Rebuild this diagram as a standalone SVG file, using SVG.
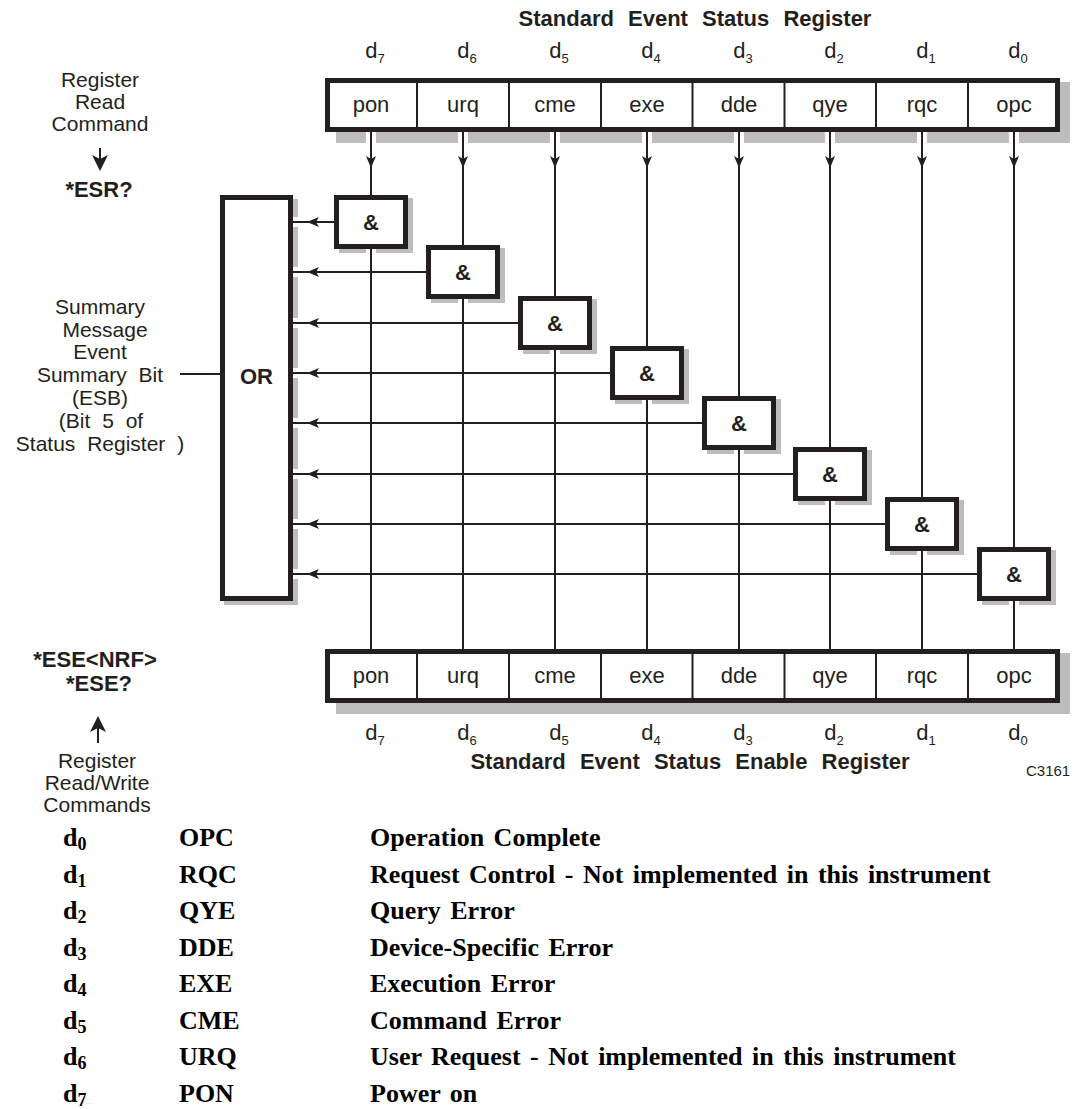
<svg xmlns="http://www.w3.org/2000/svg" xmlns:xlink="http://www.w3.org/1999/xlink" width="1076" height="1109" viewBox="0 0 1076 1109">
<style>
.sans{font-family:"Liberation Sans",Arial,sans-serif;fill:#231f20}
.lbl{font-size:22px;text-anchor:middle}
.lbl2{font-size:21px;text-anchor:middle}
.bold{font-weight:bold}
.cell{font-size:22px;text-anchor:middle}
.title{font-size:22px;font-weight:bold;text-anchor:middle;word-spacing:8px}
.dl{font-size:22px;text-anchor:middle}
.sub{font-size:13px}
.box{fill:#fff;stroke:#231f20;stroke-width:5}
.div{stroke:#231f20;stroke-width:2}
.ln{stroke:#231f20;stroke-width:2;fill:none}
.sh{fill:#bdbdbd}
.gap{fill:#fff}
.amp{font-size:22px;font-weight:bold;text-anchor:middle}
.leg{font-family:"Liberation Serif","Times New Roman",serif;font-weight:bold;font-size:26px;fill:#000}
.legsub{font-size:18px}
.ah{fill:#231f20}
</style>
<defs>
<path id="adown" d="M0,0 L-5,-12 L0,-9 L5,-12 Z"/>
<path id="aleft" d="M0,0 L12,-5 L9,0 L12,5 Z"/>
</defs>

<!-- Left descriptive texts -->
<g id="read-command" class="sans">
<text class="lbl2" x="100" y="87">Register</text>
<text class="lbl2" x="100" y="109">Read</text>
<text class="lbl2" x="100" y="131">Command</text>
<line class="ln" x1="100" y1="148" x2="100" y2="160"/>
<path class="ah" d="M100,171 L92,155 L100,159 L108,155 Z"/>
<text class="lbl bold" x="99" y="197">*ESR?</text>
</g>

<g id="summary-label" class="sans">
<text class="lbl2" x="100" y="314">Summary</text>
<text class="lbl2" x="105" y="337">Message</text>
<text class="lbl2" x="100" y="359">Event</text>
<text class="lbl2" x="100" y="382" style="word-spacing:6px">Summary Bit</text>
<text class="lbl2" x="100" y="405">(ESB)</text>
<text class="lbl2" x="101" y="428" style="word-spacing:6px">(Bit 5 of</text>
<text class="lbl2" x="100" y="451" style="word-spacing:6px">Status Register )</text>
</g>

<g id="write-command" class="sans">
<text class="lbl bold" x="95" y="667">*ESE&lt;NRF&gt;</text>
<text class="lbl bold" x="99" y="691">*ESE?</text>
<path class="ah" d="M98,716 L90,732 L98,728 L106,732 Z"/>
<line class="ln" x1="98" y1="728" x2="98" y2="743"/>
<text class="lbl2" x="97" y="768">Register</text>
<text class="lbl2" x="97" y="790">Read/Write</text>
<text class="lbl2" x="97" y="812">Commands</text>
</g>

<!-- Shadows -->
<g id="shadows">
<rect class="sh" x="336" y="82" width="734" height="61"/>
<rect class="sh" x="336" y="653" width="734" height="61"/>
<rect class="sh" x="224" y="199" width="74" height="406"/>
<rect class="sh" x="339" y="198" width="74" height="55"/>
<rect class="sh" x="431" y="248" width="74" height="55"/>
<rect class="sh" x="523" y="299" width="74" height="55"/>
<rect class="sh" x="615" y="349" width="74" height="55"/>
<rect class="sh" x="707" y="399" width="74" height="55"/>
<rect class="sh" x="798" y="450" width="74" height="55"/>
<rect class="sh" x="890" y="500" width="74" height="55"/>
<rect class="sh" x="982" y="550" width="74" height="55"/>
<g class="gap">
<rect x="366" y="132" width="10" height="12"/><rect x="458" y="132" width="10" height="12"/>
<rect x="550" y="132" width="10" height="12"/><rect x="642" y="132" width="10" height="12"/>
<rect x="734" y="132" width="10" height="12"/><rect x="825" y="132" width="10" height="12"/>
<rect x="917" y="132" width="10" height="12"/><rect x="1009" y="132" width="10" height="12"/>
<rect x="366" y="249" width="10" height="6"/><rect x="458" y="299" width="10" height="6"/>
<rect x="550" y="350" width="10" height="6"/><rect x="642" y="400" width="10" height="6"/>
<rect x="734" y="450" width="10" height="6"/><rect x="825" y="501" width="10" height="6"/>
<rect x="917" y="551" width="10" height="6"/><rect x="1009" y="601" width="10" height="6"/>
<rect x="293" y="217" width="7" height="10"/><rect x="293" y="267" width="7" height="10"/>
<rect x="293" y="318" width="7" height="10"/><rect x="293" y="368" width="7" height="10"/>
<rect x="293" y="418" width="7" height="10"/><rect x="293" y="469" width="7" height="10"/>
<rect x="293" y="519" width="7" height="10"/><rect x="293" y="569" width="7" height="10"/>
</g>
</g>

<!-- Connectors -->
<g id="connectors">
<g class="ln">
<line x1="371" y1="132" x2="371" y2="649"/>
<line x1="463" y1="132" x2="463" y2="649"/>
<line x1="555" y1="132" x2="555" y2="649"/>
<line x1="647" y1="132" x2="647" y2="649"/>
<line x1="739" y1="132" x2="739" y2="649"/>
<line x1="830" y1="132" x2="830" y2="649"/>
<line x1="922" y1="132" x2="922" y2="649"/>
<line x1="1014" y1="132" x2="1014" y2="649"/>
<line x1="293" y1="222" x2="335" y2="222"/>
<line x1="293" y1="272" x2="427" y2="272"/>
<line x1="293" y1="323" x2="519" y2="323"/>
<line x1="293" y1="373" x2="611" y2="373"/>
<line x1="293" y1="423" x2="703" y2="423"/>
<line x1="293" y1="474" x2="794" y2="474"/>
<line x1="293" y1="524" x2="886" y2="524"/>
<line x1="293" y1="574" x2="978" y2="574"/>
<line x1="180" y1="374" x2="220" y2="374"/>
</g>
<g class="ah">
<use xlink:href="#adown" x="371" y="168"/><use xlink:href="#adown" x="463" y="168"/>
<use xlink:href="#adown" x="555" y="168"/><use xlink:href="#adown" x="647" y="168"/>
<use xlink:href="#adown" x="739" y="168"/><use xlink:href="#adown" x="830" y="168"/>
<use xlink:href="#adown" x="922" y="168"/><use xlink:href="#adown" x="1014" y="168"/>
<use xlink:href="#aleft" x="307" y="222"/><use xlink:href="#aleft" x="307" y="272"/>
<use xlink:href="#aleft" x="307" y="323"/><use xlink:href="#aleft" x="307" y="373"/>
<use xlink:href="#aleft" x="307" y="423"/><use xlink:href="#aleft" x="307" y="474"/>
<use xlink:href="#aleft" x="307" y="524"/><use xlink:href="#aleft" x="307" y="574"/>
</g>
</g>

<!-- Standard Event Status Register -->
<g id="status-register" class="sans">
<text class="title" x="695" y="26">Standard Event Status Register</text>
<text class="dl" x="375" y="58">d<tspan class="sub" dy="5">7</tspan></text>
<text class="dl" x="467" y="58">d<tspan class="sub" dy="5">6</tspan></text>
<text class="dl" x="559" y="58">d<tspan class="sub" dy="5">5</tspan></text>
<text class="dl" x="651" y="58">d<tspan class="sub" dy="5">4</tspan></text>
<text class="dl" x="743" y="58">d<tspan class="sub" dy="5">3</tspan></text>
<text class="dl" x="834" y="58">d<tspan class="sub" dy="5">2</tspan></text>
<text class="dl" x="926" y="58">d<tspan class="sub" dy="5">1</tspan></text>
<text class="dl" x="1018" y="58">d<tspan class="sub" dy="5">0</tspan></text>
<rect class="box" x="327.5" y="80.5" width="730" height="49"/>
<g class="div">
<line x1="417" y1="81" x2="417" y2="129"/><line x1="509" y1="81" x2="509" y2="129"/>
<line x1="601" y1="81" x2="601" y2="129"/><line x1="692.5" y1="81" x2="692.5" y2="129"/>
<line x1="784.5" y1="81" x2="784.5" y2="129"/><line x1="876" y1="81" x2="876" y2="129"/>
<line x1="968" y1="81" x2="968" y2="129"/>
</g>
<text class="cell" x="371" y="112">pon</text>
<text class="cell" x="463" y="112">urq</text>
<text class="cell" x="555" y="112">cme</text>
<text class="cell" x="647" y="112">exe</text>
<text class="cell" x="739" y="112">dde</text>
<text class="cell" x="830" y="112">qye</text>
<text class="cell" x="922" y="112">rqc</text>
<text class="cell" x="1014" y="112">opc</text>
</g>

<!-- OR gate -->
<g id="or-gate" class="sans">
<rect class="box" x="222.5" y="197.5" width="68" height="401"/>
<text class="amp" x="256.5" y="384">OR</text>
</g>

<!-- AND gates -->
<g id="and-gates" class="sans">
<g id="and-d7"><rect class="box" x="336.5" y="197.5" width="69" height="49"/><text class="amp" x="371" y="230">&amp;</text></g>
<g id="and-d6"><rect class="box" x="428.5" y="247.5" width="69" height="49"/><text class="amp" x="463" y="280">&amp;</text></g>
<g id="and-d5"><rect class="box" x="520.5" y="298.5" width="69" height="49"/><text class="amp" x="555" y="331">&amp;</text></g>
<g id="and-d4"><rect class="box" x="612.5" y="348.5" width="69" height="49"/><text class="amp" x="647" y="381">&amp;</text></g>
<g id="and-d3"><rect class="box" x="704.5" y="398.5" width="69" height="49"/><text class="amp" x="739" y="431">&amp;</text></g>
<g id="and-d2"><rect class="box" x="795.5" y="449.5" width="69" height="49"/><text class="amp" x="830" y="482">&amp;</text></g>
<g id="and-d1"><rect class="box" x="887.5" y="499.5" width="69" height="49"/><text class="amp" x="922" y="532">&amp;</text></g>
<g id="and-d0"><rect class="box" x="979.5" y="549.5" width="69" height="49"/><text class="amp" x="1014" y="582">&amp;</text></g>
</g>

<!-- Standard Event Status Enable Register -->
<g id="enable-register" class="sans">
<rect class="box" x="327.5" y="651.5" width="730" height="49"/>
<g class="div">
<line x1="417" y1="652" x2="417" y2="700"/><line x1="509" y1="652" x2="509" y2="700"/>
<line x1="601" y1="652" x2="601" y2="700"/><line x1="692.5" y1="652" x2="692.5" y2="700"/>
<line x1="784.5" y1="652" x2="784.5" y2="700"/><line x1="876" y1="652" x2="876" y2="700"/>
<line x1="968" y1="652" x2="968" y2="700"/>
</g>
<text class="cell" x="371" y="683">pon</text>
<text class="cell" x="463" y="683">urq</text>
<text class="cell" x="555" y="683">cme</text>
<text class="cell" x="647" y="683">exe</text>
<text class="cell" x="739" y="683">dde</text>
<text class="cell" x="830" y="683">qye</text>
<text class="cell" x="922" y="683">rqc</text>
<text class="cell" x="1014" y="683">opc</text>
<text class="dl" x="375" y="740">d<tspan class="sub" dy="5">7</tspan></text>
<text class="dl" x="467" y="740">d<tspan class="sub" dy="5">6</tspan></text>
<text class="dl" x="559" y="740">d<tspan class="sub" dy="5">5</tspan></text>
<text class="dl" x="651" y="740">d<tspan class="sub" dy="5">4</tspan></text>
<text class="dl" x="743" y="740">d<tspan class="sub" dy="5">3</tspan></text>
<text class="dl" x="834" y="740">d<tspan class="sub" dy="5">2</tspan></text>
<text class="dl" x="926" y="740">d<tspan class="sub" dy="5">1</tspan></text>
<text class="dl" x="1018" y="740">d<tspan class="sub" dy="5">0</tspan></text>
<text class="title" x="690" y="769">Standard Event Status Enable Register</text>
<text x="1026" y="776" style="font-size:15px">C3161</text>
</g>

<!-- Legend -->
<g id="legend" class="leg" style="word-spacing:3px">
<text x="63" y="846">d<tspan class="legsub" dy="4">0</tspan></text>
<text x="179" y="846">OPC</text><text x="370" y="846">Operation Complete</text>
<text x="63" y="882.5">d<tspan class="legsub" dy="4">1</tspan></text>
<text x="179" y="882.5">RQC</text><text x="370" y="882.5">Request Control - Not implemented in this instrument</text>
<text x="63" y="919">d<tspan class="legsub" dy="4">2</tspan></text>
<text x="179" y="919">QYE</text><text x="370" y="919">Query Error</text>
<text x="63" y="955.5">d<tspan class="legsub" dy="4">3</tspan></text>
<text x="179" y="955.5">DDE</text><text x="370" y="955.5">Device-Specific Error</text>
<text x="63" y="992">d<tspan class="legsub" dy="4">4</tspan></text>
<text x="179" y="992">EXE</text><text x="370" y="992">Execution Error</text>
<text x="63" y="1028.5">d<tspan class="legsub" dy="4">5</tspan></text>
<text x="179" y="1028.5">CME</text><text x="370" y="1028.5">Command Error</text>
<text x="63" y="1065">d<tspan class="legsub" dy="4">6</tspan></text>
<text x="179" y="1065">URQ</text><text x="370" y="1065">User Request - Not implemented in this instrument</text>
<text x="63" y="1101.5">d<tspan class="legsub" dy="4">7</tspan></text>
<text x="179" y="1101.5">PON</text><text x="370" y="1101.5">Power on</text>
</g>
</svg>
